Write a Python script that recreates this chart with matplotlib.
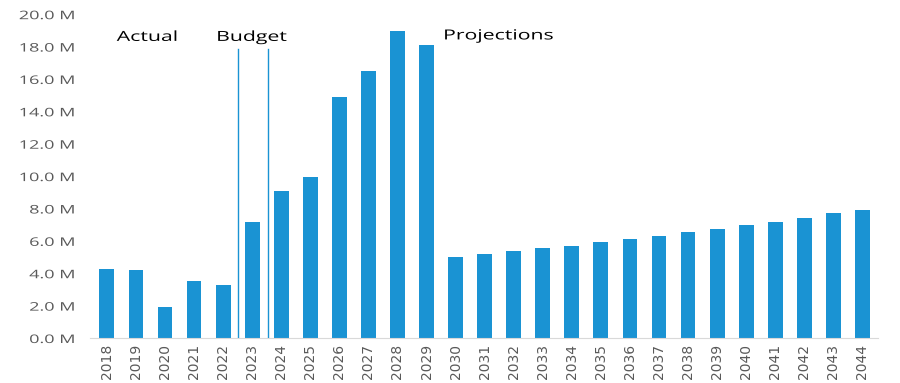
import matplotlib
matplotlib.use("Agg")
import matplotlib.pyplot as plt
from matplotlib import patheffects
from matplotlib.ticker import FuncFormatter
from matplotlib.transforms import Affine2D

years = [str(y) for y in range(2018, 2045)]
values_m = [4.26, 4.18, 1.91, 3.49, 3.29, 7.16, 9.10, 9.94, 14.90, 16.50, 18.97, 18.10,
            4.98, 5.18, 5.35, 5.54, 5.68, 5.90, 6.09, 6.27, 6.52, 6.71, 6.95, 7.18,
            7.43, 7.72, 7.92]
section_labels = ["Actual", "Budget", "Projections"]
section_label_x = [0.34, 3.76, 11.57]
section_label_y = [18.35, 18.35, 18.44]
divider_x = [4.52, 5.55]
divider_top = 17.84

BAR_COLOR = "#1a93d3"
TICK_COLOR = "#595959"


class Stretch(patheffects.AbstractPathEffect):
    # widen the glyphs along the text direction, keeping the left or right end fixed
    def __init__(self, sx=1.5, anchor="left"):
        super().__init__()
        self.sx = sx
        self.anchor = anchor

    def draw_path(self, renderer, gc, tpath, affine, rgbFace=None):
        ext = tpath.get_extents()
        x0 = ext.x1 if self.anchor == "right" else 0.0
        t = Affine2D().translate(-x0, 0).scale(self.sx, 1.0).translate(x0, 0)
        renderer.draw_path(gc, tpath, t + affine, rgbFace)


fig = plt.figure(figsize=(9, 3.83), dpi=100)
ax = fig.add_axes([0.1, 0.1175, 0.875, 0.8455])

x = range(len(years))
ax.bar(x, values_m, width=0.51, color=BAR_COLOR, zorder=2)

for xd in divider_x:
    ax.plot([xd, xd], [0, divider_top], color=BAR_COLOR, linewidth=1, zorder=3)

for lbl, lx, ly in zip(section_labels, section_label_x, section_label_y):
    ax.text(lx, ly, lbl, fontsize=10, family="Open Sans", color="black",
            ha="left", va="baseline", path_effects=[Stretch(1.53, "left")])

ax.set_xlim(-0.58, 26.52)
ax.set_ylim(0, 20)
ax.set_yticks(range(0, 21, 2))
ax.yaxis.set_major_formatter(FuncFormatter(lambda v, p: f"{v:.1f} M"))
ax.set_xticks(list(x))
ax.set_xticklabels(years, rotation=90, family=["Liberation Sans Narrow", "DejaVu Sans"],
                   fontsize=10, color=TICK_COLOR)
for t in ax.get_yticklabels():
    t.set_family("Open Sans")
    t.set_fontsize(8.5)
    t.set_color(TICK_COLOR)
    t.set_path_effects([Stretch(1.53, "right")])

for side in ["top", "right", "left"]:
    ax.spines[side].set_visible(False)
ax.spines["bottom"].set_color("#d9d9d9")
ax.tick_params(axis="both", length=0)
ax.tick_params(axis="y", pad=11)
ax.tick_params(axis="x", pad=4)

fig.savefig("out.png", dpi=100)
